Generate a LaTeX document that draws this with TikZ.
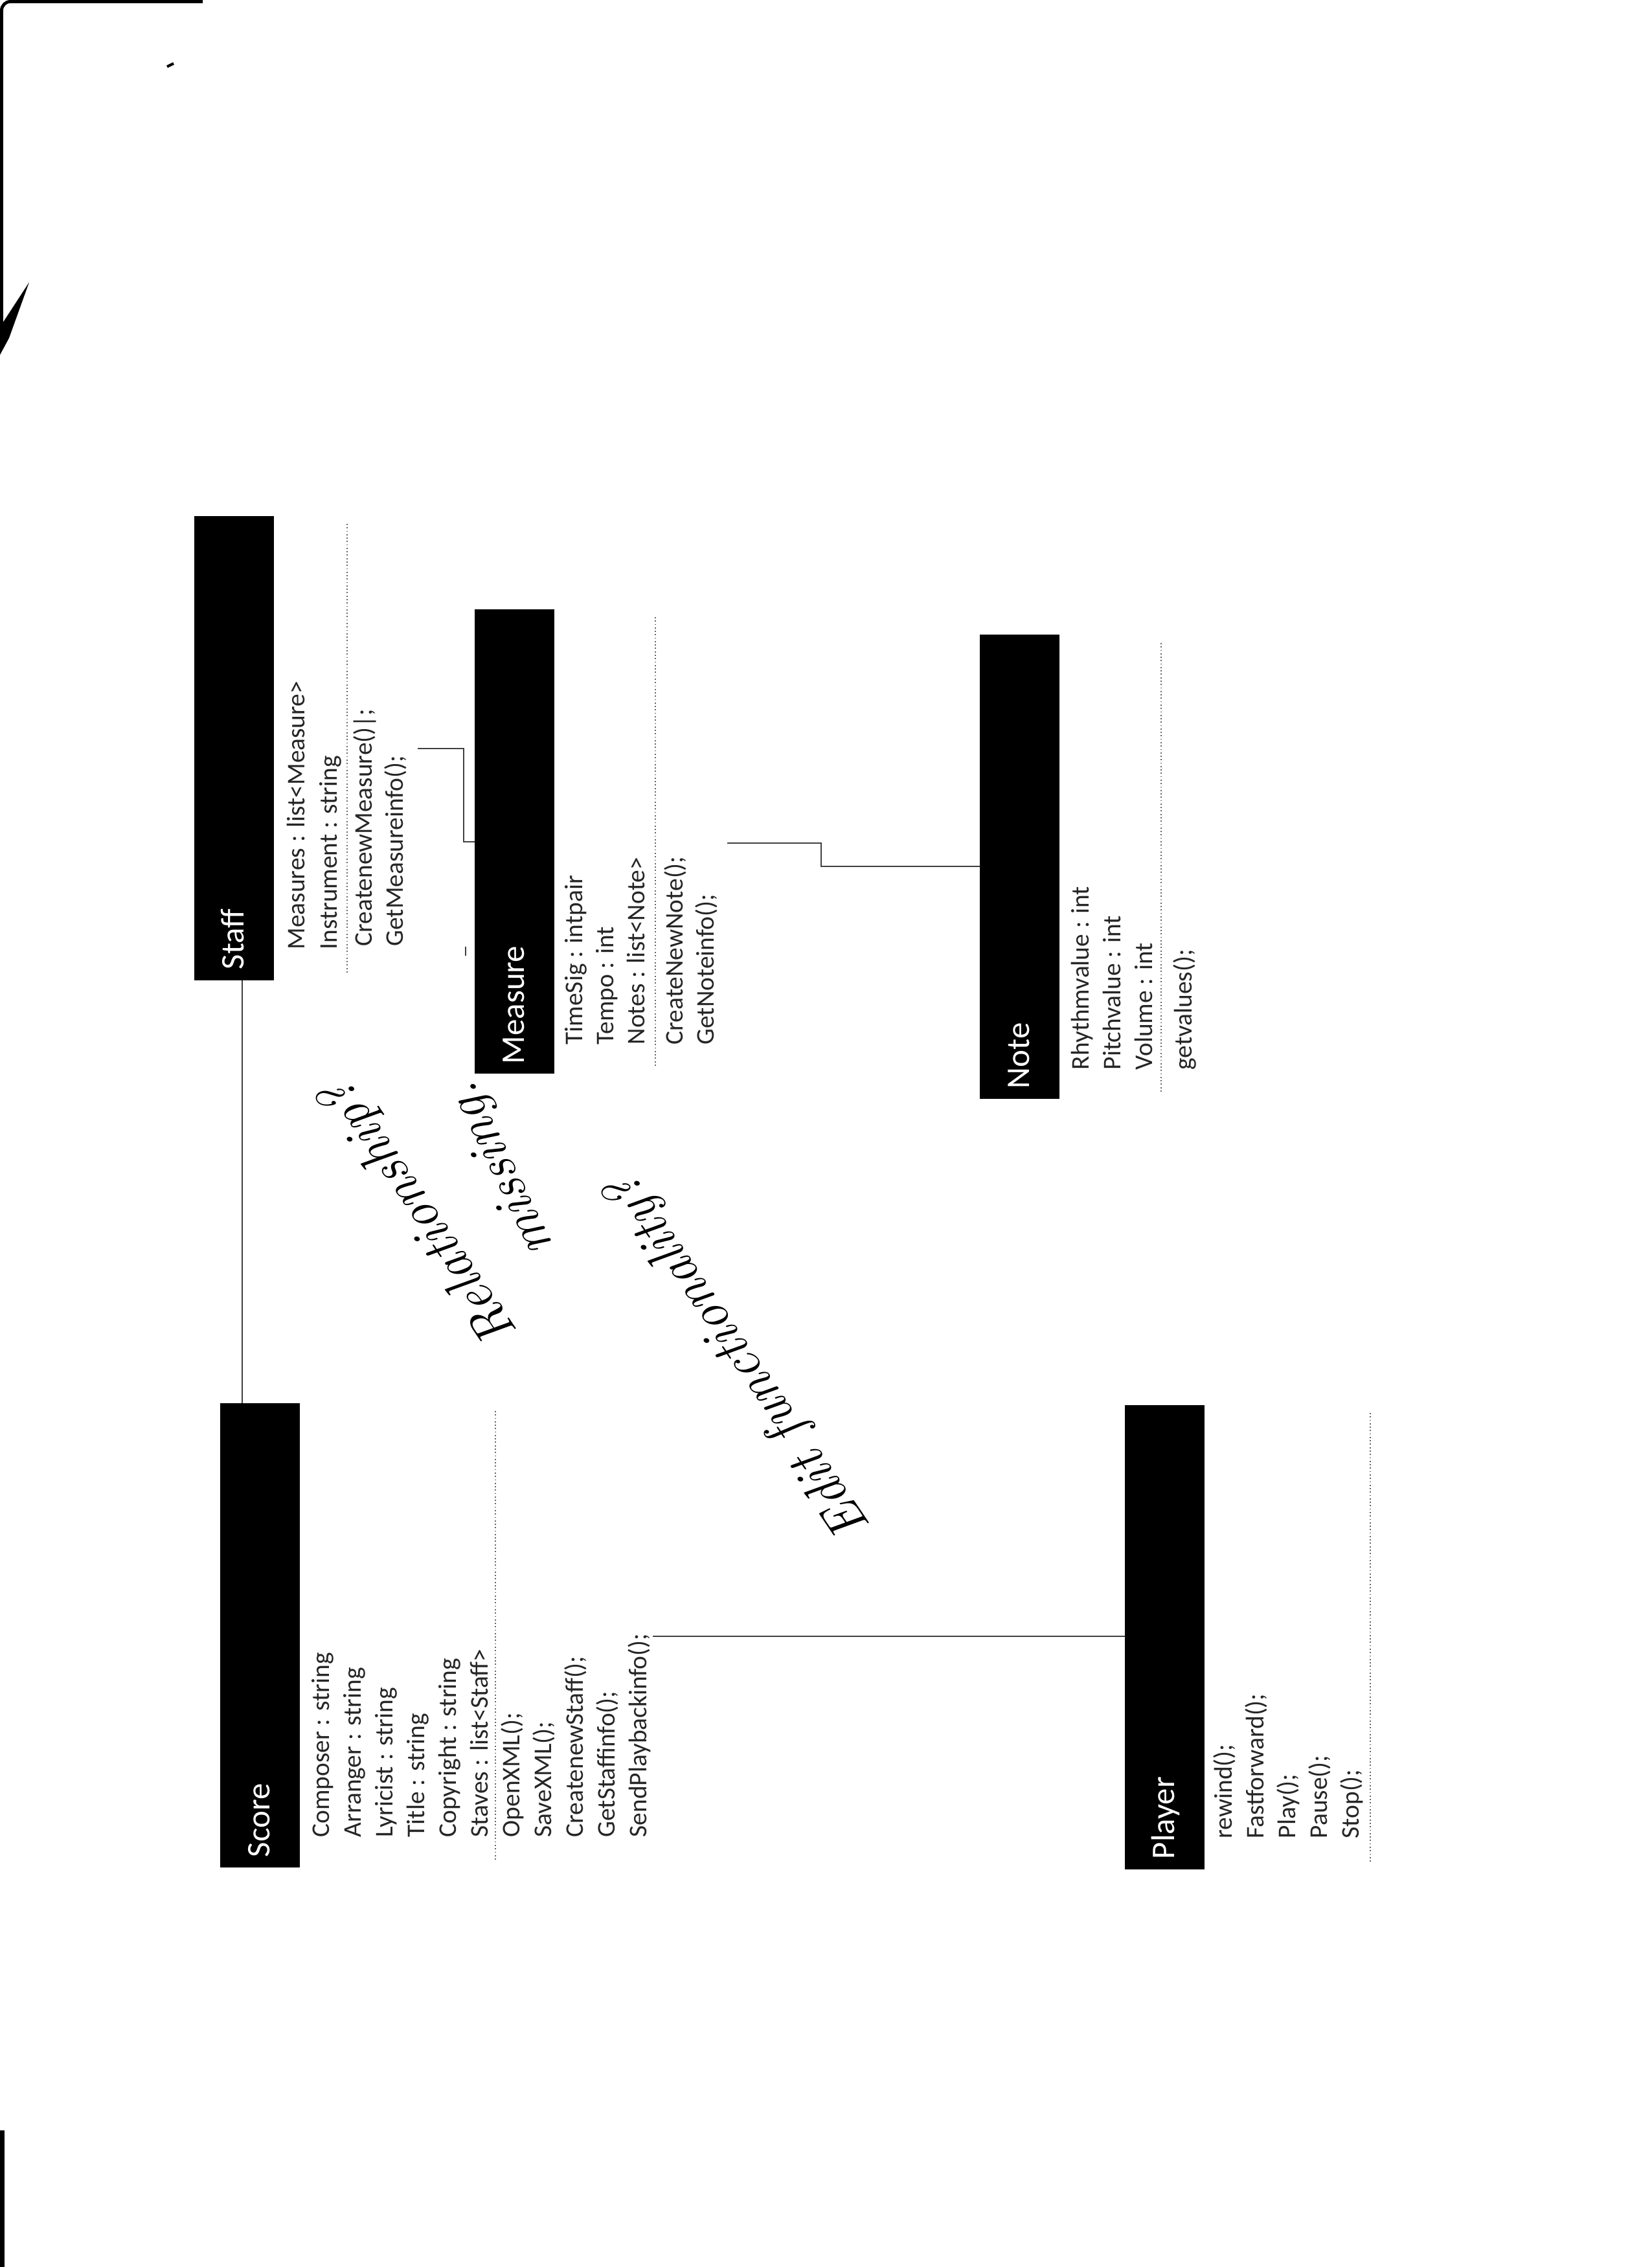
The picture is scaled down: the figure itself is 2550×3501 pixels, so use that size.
\documentclass[tikz,border=0pt]{standalone}
\usepackage{fontspec}
\newfontfamily\calfont{Carlito}
\begin{document}
\begin{tikzpicture}[x=0.01cm,y=-0.01cm,
  hdr/.style={fill=black, draw=none, inner sep=0pt, outer sep=0pt, anchor=north west, minimum width=1.23cm, minimum height=7.17cm},
  ttl/.style={text=white, font=\calfont\fontsize{14.5}{16}\selectfont, inner sep=0pt, anchor=base west, rotate=90},
  cls/.style={text=black!85, font=\calfont\fontsize{11.2}{12}\selectfont, inner sep=0pt, anchor=base west, rotate=90},
  sepline/.style={densely dotted, line width=0.5pt, black!60},
  conn/.style={line width=0.5pt, black!75},
  hand/.style={font=\itshape\fontsize{23.5}{25}\selectfont, inner sep=0pt},
  scanmark/.style={fill=black, draw=none}]
\useasboundingbox (0,0) rectangle (2550,3501);
\fill[white] (0,0) rectangle (2550,3501);

% scan edge marks
\draw[line width=1.4pt] (2.5,515) -- (2.5,16) to[out=90,in=180] (16,2.5) -- (313,2.5);
\fill[scanmark] (0,505) -- (45,436) -- (14,522) -- (0,548) -- cycle;
\fill[scanmark] (0,3290) rectangle (7,3501);
\draw[line width=1.2pt] (258,103) -- (268,98);

% class headers
\node[hdr] (staff) at (300,797) {};
\node[hdr] (score) at (340,2167) {};
\node[hdr] (measure) at (733,941) {};
\node[hdr] (note) at (1513,980) {};
\node[hdr] (player) at (1737,2170) {};

% titles
\node[ttl] (staffT) at (376,1498) {Staff};
\node[ttl] (scoreT) at (416,2869) {Score};
\node[ttl] (measureT) at (809,1644) {Measure};
\node[ttl] (noteT) at (1589,1682) {Note};
\node[ttl] (playerT) at (1813,2872) {Player};

% Score
\foreach \t [count=\i from 0] in {Composer : string, Arranger : string, Lyricist : string, Title : string, Copyright : string, Staves : list<Staff>}
  \node[cls] (scoreA\i) at ({508+49*\i},2838) {\t};
\foreach \t [count=\i from 0] in {OpenXML();, SaveXML();, CreatenewStaff();, GetStaffinfo();, SendPlaybackinfo();}
  \node[cls] (scoreM\i) at ({802+49*\i},2838) {\t};
\draw[sepline] (765,2179) -- (765,2874);

% Staff
\foreach \t [count=\i from 0] in {Measures : list<Measure>, Instrument : string}
  \node[cls] (staffA\i) at ({470+50*\i},1467) {\t};
\foreach \t [count=\i from 0] in {CreatenewMeasure()|;, GetMeasureinfo();}
  \node[cls] (staffM\i) at ({574+48*\i},1462) {\t};
\draw[sepline] (536,809) -- (536,1503);

% Measure
\foreach \t [count=\i from 0] in {TimeSig : intpair, Tempo : int, Notes : list<Note>}
  \node[cls] (measureA\i) at ({899+48*\i},1614) {\t};
\foreach \t [count=\i from 0] in {CreateNewNote();, GetNoteinfo();}
  \node[cls] (measureM\i) at ({1054+48*\i},1614) {\t};
\draw[sepline] (1012,953) -- (1012,1649);

% Note
\foreach \t [count=\i from 0] in {Rhythmvalue : int, Pitchvalue : int, Volume : int}
  \node[cls] (noteA\i) at ({1681+49*\i},1653) {\t};
\node[cls] (noteM0) at (1840,1653) {getvalues();};
\draw[sepline] (1793,993) -- (1793,1687);

% Player
\foreach \t [count=\i from 0] in {rewind();, Fastforward();, Play();, Pause();, Stop();}
  \node[cls] (playerM\i) at ({1902+49*\i},2840) {\t};
\draw[sepline] (2116,2182) -- (2116,2877);

% connectors
\coordinate (ss) at (374,0);
\draw[conn] (staff.south -| ss) -- (score.north -| ss);

\coordinate (sm0) at (645,1156);
\coordinate (sm1) at (716,1300);
\draw[conn] (sm0) -| (sm1) -- (sm1 -| measure.west);
\draw[conn] (719,1462) -- (719,1476);

\coordinate (mn0) at (1123,1302);
\coordinate (mn1) at (1268,1338);
\draw[conn] (mn0) -| (mn1) -- (mn1 -| note.west);

\coordinate (sp0) at (1008,2527);
\draw[conn] (sp0) -- (sp0 -| player.west);

% handwritten notes
\node[hand, rotate=124] (hw1) at (650,1872) {Relationship?};
\node[hand, rotate=116] (hw2) at (776,1804) {missing.};
\node[hand, rotate=124] (hw3) at (1143,2095) {Edit functionality?};
\end{tikzpicture}
\end{document}
